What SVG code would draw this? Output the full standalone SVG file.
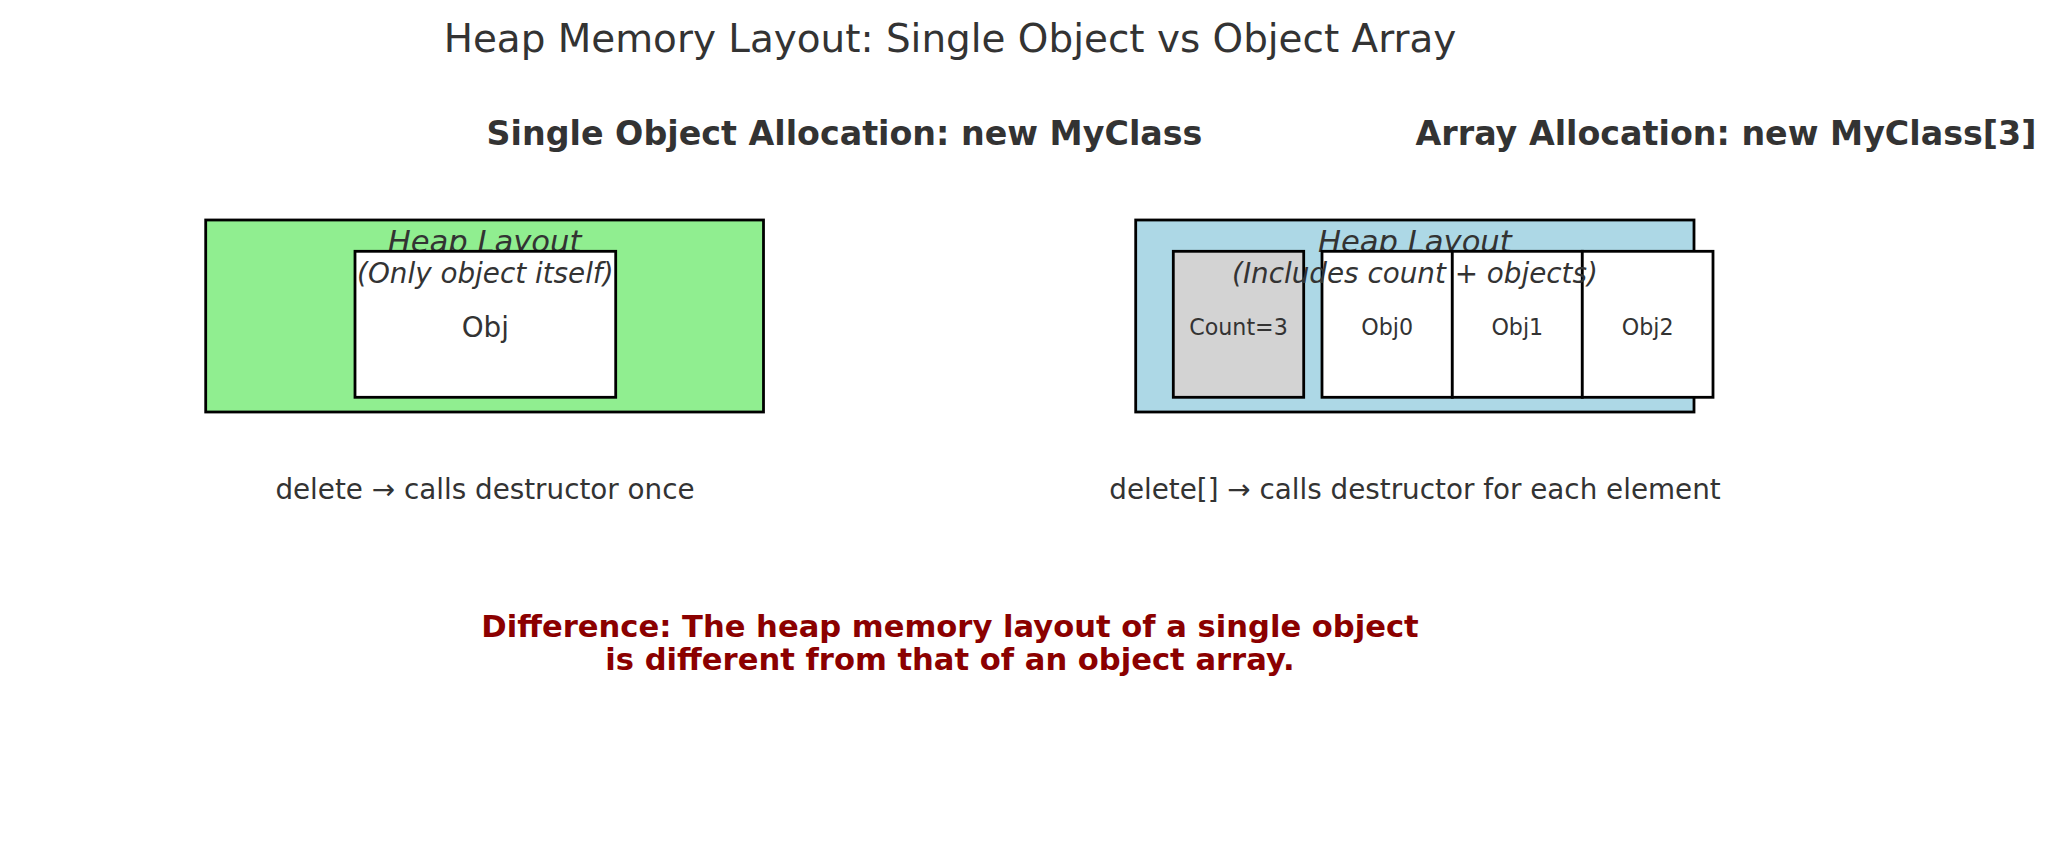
<svg xmlns="http://www.w3.org/2000/svg" width="2057" height="856" viewBox="0 0 2057 856">
<style>
text{font-family:"DejaVu Sans","Liberation Sans",sans-serif;fill:#333333;text-anchor:middle}
.title{font-size:38.9px}
.sub{font-size:33.3px;font-weight:bold}
.hl{font-size:30.6px;font-style:italic}
.note{font-size:27.8px;font-style:italic}
.lbl{font-size:27.8px}
.small{font-size:22.2px}
.diff{font-size:30.6px;font-weight:bold;fill:#8b0000}
rect{stroke:#000000;stroke-width:2.8}
.white{fill:#ffffff}
</style>
<rect x="0" y="0" width="2057" height="856" fill="#ffffff" stroke="none" style="stroke:none"/>
<text class="title" x="950" y="52">Heap Memory Layout: Single Object vs Object Array</text>
<text class="sub" x="844.5" y="145">Single Object Allocation: new MyClass</text>
<text class="sub" x="1726" y="145">Array Allocation: new MyClass[3]</text>
<g id="single-heap">
<rect x="205.7" y="220" width="557.8" height="192" fill="#90ee90"/>
<text class="hl" x="484.6" y="251.5">Heap Layout</text>
</g>
<g id="single-obj">
<rect class="white" x="355" y="251.3" width="260.7" height="146"/>
<text class="note" x="485.3" y="283.3">(Only object itself)</text>
<text class="lbl" x="485.3" y="336.8">Obj</text>
</g>
<g id="array-heap">
<rect x="1135.7" y="220" width="558.3" height="192" fill="#add8e6"/>
<text class="hl" x="1414.9" y="251.5">Heap Layout</text>
</g>
<g id="count">
<rect x="1173.3" y="251.3" width="130.4" height="146" fill="#d3d3d3"/>
<text class="small" x="1238.5" y="335">Count=3</text>
</g>
<g id="obj0">
<rect class="white" x="1322" y="251.3" width="130.3" height="146"/>
<text class="small" x="1387.2" y="335">Obj0</text>
</g>
<g id="obj1">
<rect class="white" x="1452.3" y="251.3" width="130" height="146"/>
<text class="small" x="1517.3" y="335">Obj1</text>
</g>
<g id="obj2">
<rect class="white" x="1582.3" y="251.3" width="130.7" height="146"/>
<text class="small" x="1647.7" y="335">Obj2</text>
</g>
<text class="note" x="1414.9" y="283.3">(Includes count + objects)</text>
<g id="connectors"></g>
<text class="lbl" x="485" y="498.7">delete → calls destructor once</text>
<text class="lbl" x="1415" y="498.7">delete[] → calls destructor for each element</text>
<text class="diff" x="950" y="636.5">Difference: The heap memory layout of a single object</text>
<text class="diff" x="950" y="669.8">is different from that of an object array.</text>
</svg>
